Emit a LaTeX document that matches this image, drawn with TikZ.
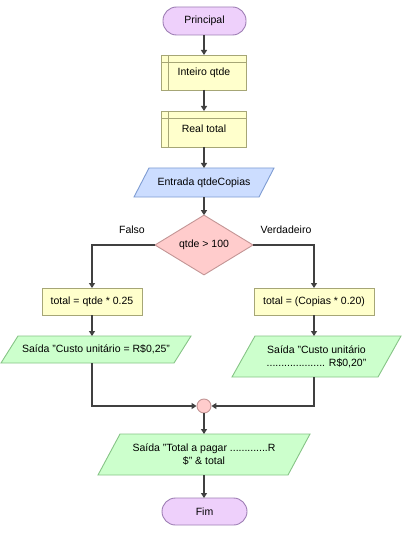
\documentclass[tikz,border=0pt]{standalone}
\usepackage{fontspec}
\setmainfont{Liberation Sans}
\usetikzlibrary{shapes.geometric,arrows.meta}
\definecolor{termfill}{HTML}{EED0FB}
\definecolor{termdraw}{HTML}{9F80B5}
\definecolor{decfill}{HTML}{FFFFCC}
\definecolor{decdraw}{HTML}{A6A676}
\definecolor{infill}{HTML}{CCDDFF}
\definecolor{indraw}{HTML}{7E9CD2}
\definecolor{ifill}{HTML}{FFCCCC}
\definecolor{idraw}{HTML}{C39595}
\definecolor{outfill}{HTML}{CCFFCC}
\definecolor{outdraw}{HTML}{86C486}
\definecolor{linec}{HTML}{404040}
\tikzset{
  base/.style={inner sep=0pt, outer sep=0pt, align=center, font=\fontsize{10.5}{13}\selectfont},
  term/.style={base, draw=termdraw, fill=termfill, rounded corners=13.5pt, line width=0.9pt},
  decl/.style={base, draw=decdraw, fill=decfill, line width=0.9pt},
  proc/.style={base, draw=decdraw, fill=decfill, line width=0.9pt},
  paral/.style={base},
  inshape/.style={draw=indraw, fill=infill, line width=0.9pt},
  outshape/.style={draw=outdraw, fill=outfill, line width=0.9pt},
  dec/.style={base, shape=diamond, draw=idraw, fill=ifill, line width=0.9pt},
  merge/.style={circle, draw=idraw, fill=ifill, line width=0.9pt, minimum size=14pt, inner sep=0pt},
  flow/.style={draw=linec, line width=2pt, -{Triangle[length=5pt,width=6pt]}},
  lbl/.style={font=\fontsize{10.5}{13}\selectfont, inner sep=0pt}
}
\begin{document}
\begin{tikzpicture}[x=1pt,y=-1pt]
\useasboundingbox (0,0) rectangle (412,548);
% terminator start
\node[term, minimum width=83pt, minimum height=28pt] (start) at (204.5,21) {Principal};
% declarations
\node[decl, minimum width=85pt, minimum height=35pt] (inteiro) at (204,72.5) {Inteiro qtde};
\draw[decdraw, line width=0.9pt] ([xshift=7pt]inteiro.north west) -- ([xshift=7pt]inteiro.south west);
\draw[decdraw, line width=0.9pt] ([yshift=-7pt]inteiro.north west) -- ([yshift=-7pt]inteiro.north east);
\node[decl, minimum width=85pt, minimum height=36pt] (real) at (204,129) {Real total};
\draw[decdraw, line width=0.9pt] ([xshift=7pt]real.north west) -- ([xshift=7pt]real.south west);
\draw[decdraw, line width=0.9pt] ([yshift=-7pt]real.north west) -- ([yshift=-7pt]real.north east);
% input
\node[paral, minimum width=140pt, minimum height=29pt] (entrada) at (204,182.5) {};
\draw[inshape] ([xshift=15pt]entrada.north west) -- (entrada.north east) -- ([xshift=-15pt]entrada.south east) -- (entrada.south west) -- cycle;
\node[base] at (entrada.center) {Entrada qtdeCopias};
% decision
\node[dec, minimum width=98pt, minimum height=56pt] (cond) at (204,245) {qtde > 100};
\node[lbl] (falso) at (132,230) {Falso};
\node[lbl] (verd) at (286,230) {Verdadeiro};
% processes
\node[proc, minimum width=100pt, minimum height=27pt] (pl) at (92,301.5) {total = qtde * 0.25};
\node[proc, minimum width=120pt, minimum height=27pt] (pr) at (314,301.5) {total = (Copias * 0.20)};
% outputs
\node[paral, minimum width=190pt, minimum height=27pt] (ol) at (96,349.5) {};
\draw[outshape] ([xshift=17pt]ol.north west) -- (ol.north east) -- ([xshift=-17pt]ol.south east) -- (ol.south west) -- cycle;
\node[base] at (ol.center) {Saída "Custo unitário = R\$0,25"};
\node[paral, minimum width=169pt, minimum height=41pt] (or) at (316.5,356.5) {};
\draw[outshape] ([xshift=23pt]or.north west) -- (or.north east) -- ([xshift=-23pt]or.south east) -- (or.south west) -- cycle;
\node[base] at (or.center) {Saída "Custo unitário\\ .................... R\$0,20"};
% merge
\node[merge] (m) at (204,406) {};
% final output
\node[paral, minimum width=212pt, minimum height=41pt] (ot) at (204,454.5) {};
\draw[outshape] ([xshift=22pt]ot.north west) -- (ot.north east) -- ([xshift=-22pt]ot.south east) -- (ot.south west) -- cycle;
\node[base] at (ot.center) {Saída "Total a pagar .............R\\ \$" \& total};
% end
\node[term, minimum width=85pt, minimum height=27pt] (fim) at (204.5,511.5) {Fim};
% connectors
\draw[flow] (start.south -| 204,0) -- (inteiro.north);
\draw[flow] (inteiro.south) -- (real.north);
\draw[flow] (real.south) -- (entrada.north);
\draw[flow] (entrada.south) -- (cond.north);
\draw[flow] (cond.west) -| (pl.north);
\draw[flow] (cond.east) -| (pr.north);
\draw[flow] (pl.south) -- (pl.south |- ol.north);
\draw[flow] (pr.south) -- (pr.south |- or.north);
\draw[flow] (pl.south |- ol.south) |- (m.west);
\draw[flow] (pr.south |- or.south) |- (m.east);
\draw[flow] (m.south) -- (ot.north);
\draw[flow] (ot.south) -- (ot.south |- fim.north);
\end{tikzpicture}
\end{document}
